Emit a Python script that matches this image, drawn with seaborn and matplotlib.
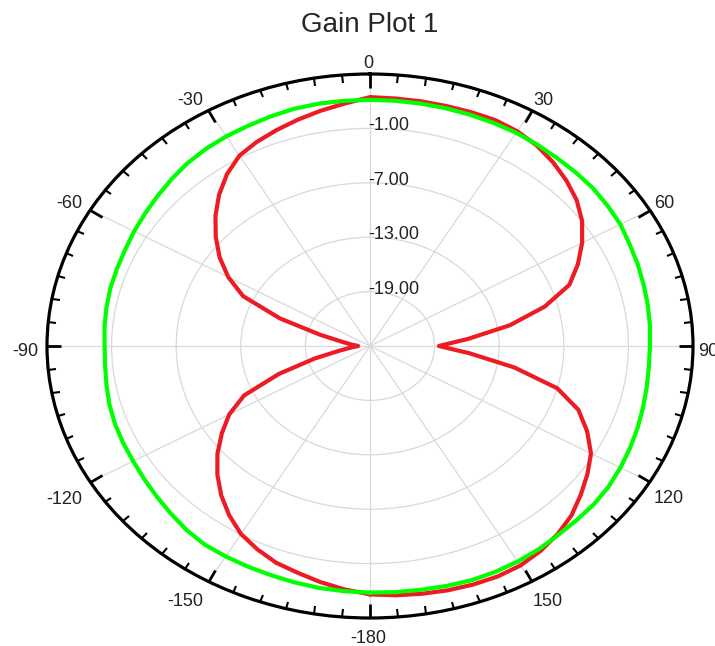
import numpy as np
import pandas as pd
import matplotlib
matplotlib.use("Agg")
import matplotlib.pyplot as plt
import seaborn as sns

# ---- data ----
angles_deg = list(range(-180, 185, 5))

red_db = [2.4, 1.95, 1.45, 0.9, 0.45, -0.25, -1.05, -2.2, -3.5, -4.95,
          -6.5, -8.2, -9.9, -12.1, -16.0, -19.7, -22.2, -23.3, -23.9, -23.3,
          -22.4, -20.2, -16.1, -12.0, -9.8, -7.95, -6.3, -4.7, -3.2, -1.85,
          -0.75, -0.15, 0.35, 0.85, 1.35, 1.85, 2.45, 2.4, 2.4, 2.4,
          2.45, 2.5, 2.35, 2.0, 1.45, 0.8, 0.05, -0.95, -2.25, -3.7,
          -5.3, -8.2, -11.8, -15.8, -18.6, -15.7, -11.4, -7.0, -4.4, -2.75,
          -1.3, -0.35, 0.55, 1.45, 2.1, 2.6, 2.95, 3.05, 3.0, 2.9,
          2.75, 2.6, 2.4]

green_db = [2.2, 2.15, 2.1, 2.0, 1.9, 1.85, 1.8, 1.75, 1.5, 1.15,
            0.85, 0.6, 0.4, 0.3, 0.2, 0.05, -0.15, -0.3, -0.35, -0.25,
            -0.15, -0.05, 0.0, 0.1, 0.3, 0.5, 0.75, 1.05, 1.35, 1.55,
            1.7, 1.8, 1.95, 2.1, 2.15, 2.15, 2.15, 2.15, 2.15, 2.15,
            2.15, 2.15, 2.15, 2.1, 2.05, 2.05, 2.05, 1.95, 1.85, 1.6,
            1.45, 1.3, 1.2, 1.1, 1.0, 1.0, 1.1, 1.25, 1.45, 1.65,
            1.85, 2.05, 2.15, 2.15, 2.2, 2.35, 2.45, 2.5, 2.5, 2.4,
            2.3, 2.25, 2.2]

ring_values = [-19, -13, -7, -1]
ring_labels = ["-19.00", "-13.00", "-7.00", "-1.00"]
r_min, r_max = -25, 5

theta_ticks_deg = [0, 30, 60, 90, 120, 150, 180, 210, 240, 270, 300, 330]
theta_tick_labels = ["0", "30", "60", "90", "120", "150",
                     "-180", "-150", "-120", "-90", "-60", "-30"]

title = "Gain Plot 1"

# ---- plotting ----
sns.set_style("white")
plt.rcParams["font.family"] = ["Liberation Sans", "DejaVu Sans"]

df = pd.DataFrame({
    "theta": np.deg2rad(angles_deg * 2),
    "gain": red_db + green_db,
    "trace": ["red"] * len(red_db) + ["green"] * len(green_db),
})

fig = plt.figure(figsize=(7.15, 6.46), dpi=100)
ax = fig.add_axes([47 / 715, 28 / 646, 646 / 715, 544 / 646], projection="polar")
ax.set_aspect("auto")
ax.set_theta_zero_location("N")
ax.set_theta_direction(-1)

sns.lineplot(data=df, x="theta", y="gain", hue="trace",
             palette={"red": "#ED1C24", "green": "#00FF00"},
             hue_order=["red", "green"], sort=False, estimator=None,
             linewidth=3.0, ax=ax, legend=False)

ax.set_ylim(r_min, r_max)
ax.set_yticks(ring_values)
ax.set_yticklabels([])
ax.set_xticks(np.deg2rad(theta_ticks_deg))
ax.set_xticklabels([])
ax.set_xticks(np.deg2rad(np.arange(0, 360, 5)), minor=True)
ax.set_xlabel("")
ax.set_ylabel("")

ax.grid(True, which="major", color="#d9d9d9", linewidth=0.9)
ax.xaxis.grid(False, which="minor")
ax.tick_params(axis="x", which="both", bottom=False, top=True,
               labelbottom=False, labeltop=False)
ax.tick_params(axis="x", which="major", direction="in", length=10, width=2.0,
               color="black")
ax.tick_params(axis="x", which="minor", direction="in", length=5.5, width=1.5,
               color="black")
ax.spines["polar"].set_color("black")
ax.spines["polar"].set_linewidth(2.3)

# angular labels outside the ring (px offsets converted to points)
px = 0.72
gap = 7
for deg, lab in zip(theta_ticks_deg, theta_tick_labels):
    s, c = np.sin(np.deg2rad(deg)), np.cos(np.deg2rad(deg))
    ha = "left" if s > 0.3 else ("right" if s < -0.3 else "center")
    va = "bottom" if c > 0.3 else ("top" if c < -0.3 else "center")
    dx = (gap * s - 2) * px
    dy = (gap * c - 5) * px
    ax.annotate(lab, xy=(np.deg2rad(deg), r_max), xytext=(dx, dy),
                textcoords="offset points", ha=ha, va=va, fontsize=13,
                color="#222222", annotation_clip=False)

for val, lab in zip(ring_values, ring_labels):
    ax.annotate(lab, xy=(0, val), xytext=(-1, 1.8), textcoords="offset points",
                ha="left", va="center", fontsize=13, color="#222222")

fig.suptitle(title, x=370 / 715, y=1 - 25 / 646, va="center", fontsize=20)

fig.savefig("out.png", dpi=100)
